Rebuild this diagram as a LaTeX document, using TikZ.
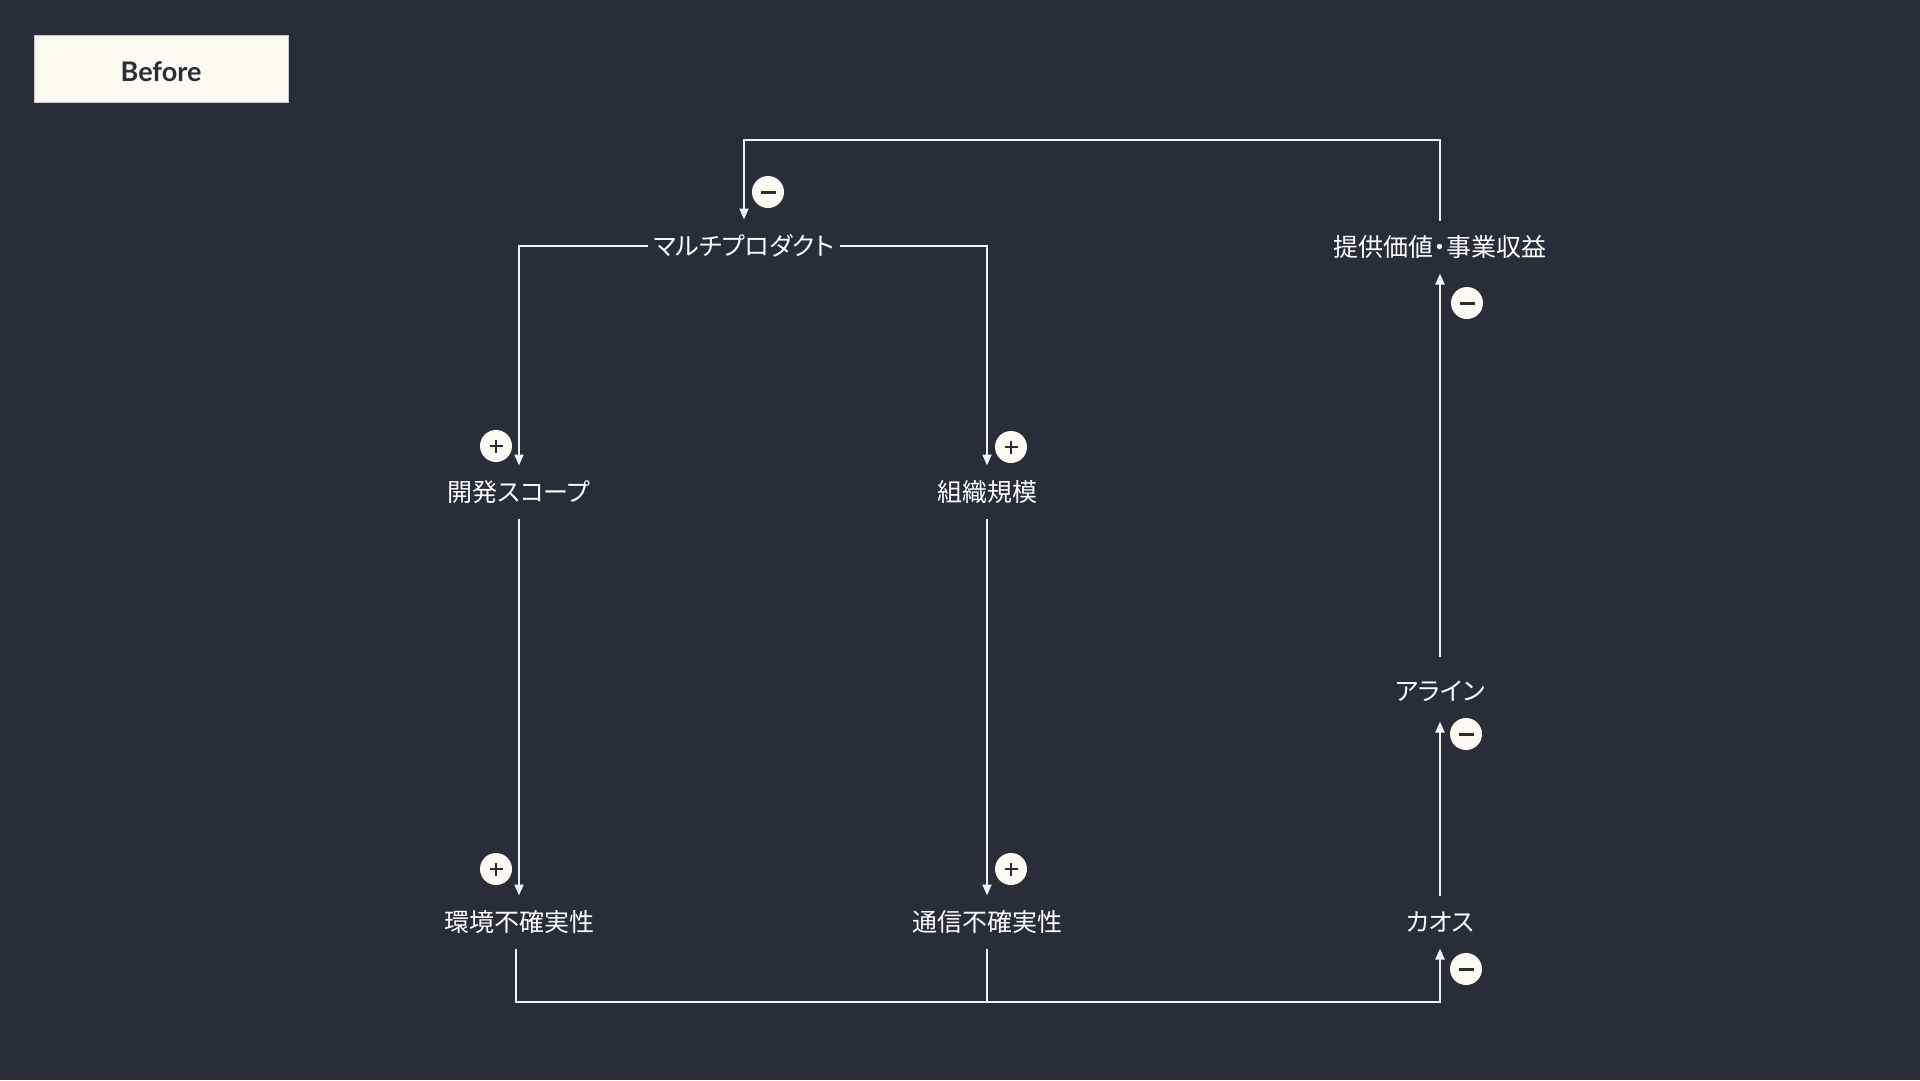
\documentclass[tikz,border=0pt]{standalone}
\usepackage{fontspec}
\setmainfont{Lato}
\newfontfamily\jp[RawFeature=+palt]{Noto Sans CJK JP}
\usetikzlibrary{arrows.meta}
\definecolor{bg}{HTML}{2A2C37}
\definecolor{cream}{HTML}{FBF9F1}
\definecolor{ink}{HTML}{2A2C37}
\definecolor{wire}{HTML}{F2F2F2}
\tikzset{
  lbl/.style={text=white, font=\jp\fontsize{25}{30}\selectfont, inner sep=0pt,
    text height=22pt, text depth=3pt, outer xsep=6pt, outer ysep=14pt},
  arr/.style={draw=wire, line width=2pt, -{Triangle[length=11pt,width=9pt]}},
  wireline/.style={draw=wire, line width=2pt},
  signbase/.style={circle, fill=cream, minimum size=32pt, inner sep=0pt},
  plussign/.style={signbase, path picture={
    \draw[ink, line width=2.5pt] ([xshift=-6.5pt]path picture bounding box.center) -- ([xshift=6.5pt]path picture bounding box.center);
    \draw[ink, line width=2.5pt] ([yshift=-6.5pt]path picture bounding box.center) -- ([yshift=6.5pt]path picture bounding box.center);}},
  minussign/.style={signbase, path picture={
    \draw[ink, line width=3pt] ([xshift=-7.5pt]path picture bounding box.center) -- ([xshift=7.5pt]path picture bounding box.center);}},
}
\begin{document}
\begin{tikzpicture}[x=1pt, y=-1pt]
\fill[bg] (0,0) rectangle (1920,1080);
\useasboundingbox (0,0) rectangle (1920,1080);

% title box
\node[draw={rgb,255:red,200;green,200;blue,200}, line width=1pt, fill=cream, minimum width=254pt, minimum height=67pt, inner sep=0pt,
  font=\bfseries\fontsize{27}{32}\selectfont, text=ink] (title) at (161,68.5) {\raisebox{-12.5pt}[0pt][0pt]{Before}};

% nodes
\node[lbl] (mp) at (744,246) {マルチプロダクト};
\node[lbl] (dev) at (519,492) {開発スコープ};
\node[lbl] (org) at (987,492) {組織規模};
\node[lbl] (env) at (519,922) {環境不確実性};
\node[lbl] (com) at (987,922) {通信不確実性};
\node[lbl] (chaos) at (1440,922) {カオス};
\node[lbl] (align) at (1440,691) {アライン};
\node[lbl] (value) at (1440,247) {提供価値・事業収益};

\coordinate (top) at (0,140);
\coordinate (bot) at (0,1002);

% connectors
\draw[arr] (value.north) -- (value.north |- top) -| (mp.north);
\draw[arr] (mp.west) -| (dev.north);
\draw[arr] (mp.east) -| (org.north);
\draw[arr] (dev.south) -- (env.north);
\draw[arr] (org.south) -- (com.north);
\draw[arr] ([xshift=-3pt]env.south) -- ([xshift=-3pt]env.south |- bot) -| (chaos.south);
\draw[wireline] (com.south) -- (com.south |- bot);
\draw[arr] (chaos.north) -- ([yshift=-4pt]align.south);
\draw[arr] ([yshift=8pt]align.north) -- (value.south);

% signs
\node[minussign] (s1) at (768,192) {};
\node[plussign] (s2) at (496,446) {};
\node[plussign] (s3) at (1011,447) {};
\node[plussign] (s4) at (496,869) {};
\node[plussign] (s5) at (1011,869) {};
\node[minussign] (s6) at (1466,969) {};
\node[minussign] (s7) at (1466,734) {};
\node[minussign] (s8) at (1467,303) {};
\end{tikzpicture}
\end{document}
